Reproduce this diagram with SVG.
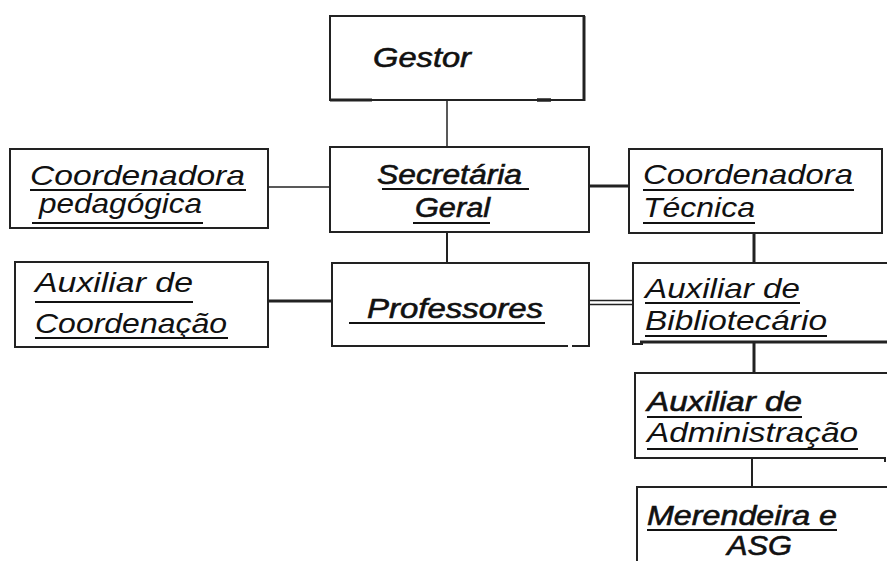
<svg xmlns="http://www.w3.org/2000/svg" width="887" height="561" viewBox="0 0 887 561">
<style>
.box{fill:#fff;stroke:#222;stroke-width:2}
.edge{fill:none;stroke:#222}
.t{font-family:"Liberation Sans",Arial,sans-serif;font-style:italic;font-size:28px;fill:#111}
.b{stroke:#111;stroke-width:0.6px}
.ul{stroke:#111;stroke-width:2}
</style>
<rect width="887" height="561" fill="#fff"/>
<g id="connectors">
<line class="edge" x1="447" y1="100" x2="447" y2="147" stroke-width="1.5"/>
<line class="edge" x1="268" y1="187" x2="330" y2="187" stroke-width="1.5"/>
<line class="edge" x1="589" y1="186" x2="629" y2="186" stroke-width="3"/>
<line class="edge" x1="754" y1="233" x2="754" y2="262" stroke-width="3"/>
<line class="edge" x1="447" y1="232" x2="447" y2="263" stroke-width="2"/>
<line class="edge" x1="268" y1="301" x2="332" y2="301" stroke-width="3"/>
<line class="edge" x1="589" y1="300.5" x2="633" y2="300.5" stroke-width="1.5"/>
<line class="edge" x1="589" y1="304.5" x2="633" y2="304.5" stroke-width="1.5"/>
<line class="edge" x1="754" y1="342" x2="754" y2="373" stroke-width="3"/>
<line class="edge" x1="752" y1="458" x2="752" y2="487" stroke-width="2"/>
</g>
<g id="gestor">
<rect class="box" x="330" y="16" width="254" height="84"/>
<line class="edge" x1="584" y1="16" x2="584" y2="101" stroke-width="3"/>
<line class="edge" x1="330" y1="100" x2="372" y2="100" stroke-width="3"/>
<line class="edge" x1="537" y1="100" x2="551" y2="100" stroke-width="3.5"/>
<text class="t b" x="373" y="67" textLength="98" lengthAdjust="spacingAndGlyphs">Gestor</text>
</g>
<g id="coord-pedagogica">
<rect class="box" x="10" y="149" width="258" height="79"/>
<text class="t" x="30" y="185" textLength="215" lengthAdjust="spacingAndGlyphs">Coordenadora</text>
<line class="ul" x1="30" y1="190" x2="246" y2="190"/>
<text class="t" x="39" y="213" textLength="163" lengthAdjust="spacingAndGlyphs">pedagógica</text>
<line class="ul" x1="32" y1="223" x2="203" y2="223"/>
</g>
<g id="secretaria">
<rect class="box" x="330" y="147" width="259" height="85"/>
<text class="t b" x="377" y="184" textLength="145" lengthAdjust="spacingAndGlyphs">Secretária</text>
<line class="ul" x1="382" y1="189" x2="529" y2="189"/>
<text class="t b" x="415" y="217" textLength="75" lengthAdjust="spacingAndGlyphs">Geral</text>
<line class="ul" x1="413" y1="223" x2="490" y2="223"/>
</g>
<g id="coord-tecnica">
<rect class="box" x="629" y="149" width="253" height="84"/>
<text class="t" x="643" y="184" textLength="210" lengthAdjust="spacingAndGlyphs">Coordenadora</text>
<line class="ul" x1="643" y1="190" x2="854" y2="190"/>
<text class="t" x="643" y="217" textLength="112" lengthAdjust="spacingAndGlyphs">Técnica</text>
<line class="ul" x1="643" y1="223" x2="755" y2="223"/>
</g>
<g id="aux-coordenacao">
<rect class="box" x="15" y="262" width="253" height="85"/>
<text class="t" x="35" y="292" textLength="158" lengthAdjust="spacingAndGlyphs">Auxiliar de</text>
<line class="ul" x1="35" y1="302" x2="193" y2="302"/>
<text class="t" x="35" y="333" textLength="192" lengthAdjust="spacingAndGlyphs">Coordenação</text>
<line class="ul" x1="35" y1="338" x2="228" y2="338"/>
</g>
<g id="professores">
<path class="box" d="M572 346 H589 V263 H332 V346 H568"/>
<text class="t b" x="367" y="318" textLength="176" lengthAdjust="spacingAndGlyphs">Professores</text>
<line class="ul" x1="349" y1="323" x2="545" y2="323"/>
</g>
<g id="aux-bibliotecario">
<path class="box" d="M890 263 H633 V344 H643"/>
<line class="edge" x1="640" y1="342" x2="890" y2="342" stroke-width="3"/>
<text class="t" x="645" y="298" textLength="155" lengthAdjust="spacingAndGlyphs">Auxiliar de</text>
<line class="ul" x1="645" y1="303" x2="800" y2="303"/>
<text class="t" x="645" y="330" textLength="182" lengthAdjust="spacingAndGlyphs">Bibliotecário</text>
<line class="ul" x1="645" y1="336" x2="827" y2="336"/>
</g>
<g id="aux-administracao">
<path class="box" d="M890 373 H635 V458 H885 V462"/>
<text class="t b" x="647" y="411" textLength="155" lengthAdjust="spacingAndGlyphs">Auxiliar de</text>
<line class="ul" x1="647" y1="417" x2="802" y2="417"/>
<text class="t" x="647" y="442" textLength="211" lengthAdjust="spacingAndGlyphs">Administração</text>
<line class="ul" x1="647" y1="449" x2="858" y2="449"/>
</g>
<g id="merendeira">
<path class="box" d="M890 487 H637 V565"/>
<text class="t b" x="647" y="525" textLength="190" lengthAdjust="spacingAndGlyphs">Merendeira e</text>
<line class="ul" x1="647" y1="530" x2="837" y2="530"/>
<text class="t b" x="727" y="555" textLength="65" lengthAdjust="spacingAndGlyphs">ASG</text>
</g>
</svg>
